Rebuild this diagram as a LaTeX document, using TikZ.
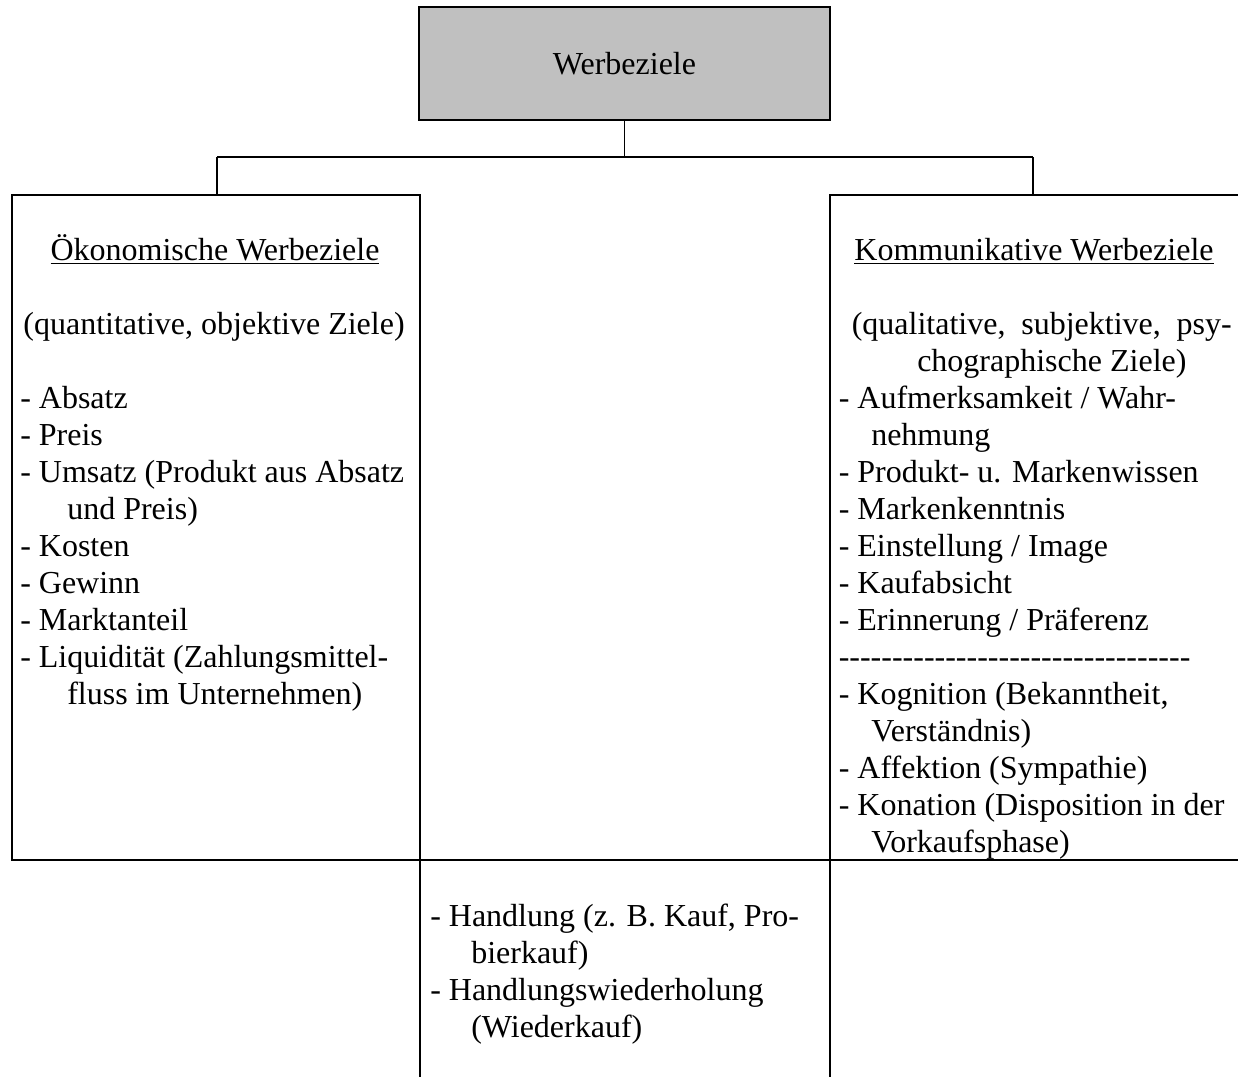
\documentclass[tikz,border=0pt]{standalone}
\usepackage{fontspec}
\setmainfont{Liberation Serif}
\usetikzlibrary{fit}
\definecolor{boxgray}{HTML}{C0C0C0}
\newcommand\mydashrow{-{}-{}-{}-{}-{}-{}-{}-{}-{}-{}-{}-{}-{}-{}-{}-{}-{}-{}-{}-{}-{}-{}-{}-{}-{}-{}-{}-{}-{}-{}-{}-{}-}
\begin{document}
\begin{tikzpicture}[x=0.75pt,y=-0.75pt,
  box/.style={draw, line width=1.4pt, inner sep=0pt},
  conn/.style={draw, line width=1.4pt},
  txt/.style={anchor=base west, inner sep=0pt, font=\fontsize{24}{27.6}\selectfont},
  ctxt/.style={anchor=base, inner sep=0pt, font=\fontsize{24}{27.6}\selectfont}]
\useasboundingbox (0,0) rectangle (1238,1076);

% boxes
\coordinate (tnw) at (419,7);   \coordinate (tse) at (830,120);
\coordinate (lnw) at (12,195);  \coordinate (lse) at (420,860);
\coordinate (rnw) at (830,195); \coordinate (rse) at (1250,860);
\coordinate (mnw) at (420,860); \coordinate (mse) at (830,1090);
\node[box, fill=boxgray, fit=(tnw)(tse)] (top) {};
\node[box, fit=(lnw)(lse)] (left) {};
\node[box, fit=(rnw)(rse)] (right) {};
\node[box, fit=(mnw)(mse)] (mid) {};

% connectors
\coordinate (bar) at (624.5,157);
\coordinate (barL) at (217,157);
\coordinate (barR) at (1033,157);
\draw[conn] (top.south) -- (bar);
\draw[conn] (barL) -- (barR);
\draw[conn] (barL) -- (barL |- left.north);
\draw[conn] (barR) -- (barR |- right.north);

% top label
\node[ctxt] (tl) at (624.5,74) {Werbeziele};

% left box
\node[ctxt] (lh) at (215,260.5) {\underline{Ökonomische Werbeziele}};
\node[ctxt] (ls) at (214,334.5) {(quantitative, objektive Ziele)};
\node[txt] (l1) at (20,408.5) {- Absatz};
\node[txt] (l2) at (20,445.5) {- Preis};
\node[txt] (l3) at (20,482.5) {- Umsatz (Produkt aus Absatz};
\node[txt] (l3b) at (67,519.5) {und Preis)};
\node[txt] (l4) at (20,556.5) {- Kosten};
\node[txt] (l5) at (20,593.5) {- Gewinn};
\node[txt] (l6) at (20,630.5) {- Marktanteil};
\node[txt] (l7) at (20,667.5) {- Liquidität (Zahlungsmittel-};
\node[txt] (l7b) at (67,704.5) {fluss im Unternehmen)};

% right box
\node[ctxt] (rh) at (1034,260.5) {\underline{Kommunikative Werbeziele}};
\node[txt] (rs1) at (851.5,334.5) {\makebox[285pt][s]{(qualitative, subjektive, psy-}};
\node[txt] (rs2) at (917,371.5) {chographische Ziele)};
\node[txt] (r1) at (838.5,408.5) {- Aufmerksamkeit / Wahr-};
\node[txt] (r1b) at (871,445.5) {nehmung};
\node[txt] (r2) at (838.5,482.5) {- Produkt- u. Markenwissen};
\node[txt] (r3) at (838.5,519.5) {- Markenkenntnis};
\node[txt] (r4) at (838.5,556.5) {- Einstellung / Image};
\node[txt] (r5) at (838.5,593.5) {- Kaufabsicht};
\node[txt] (r6) at (838.5,630.5) {- Erinnerung / Präferenz};
\node[txt] (rdash) at (838.5,667.5) {\mydashrow};
\node[txt] (r7) at (838.5,704.5) {- Kognition (Bekanntheit,};
\node[txt] (r7b) at (871,741.5) {Verständnis)};
\node[txt] (r8) at (838.5,778.5) {- Affektion (Sympathie)};
\node[txt] (r9) at (838.5,815.5) {- Konation (Disposition in der};
\node[txt] (r9b) at (871,852.5) {Vorkaufsphase)};

% middle box
\node[txt] (m1) at (430,926.5) {- Handlung (z. B. Kauf, Pro-};
\node[txt] (m1b) at (471,963.5) {bierkauf)};
\node[txt] (m2) at (430,1000.5) {- Handlungswiederholung};
\node[txt] (m2b) at (471,1037.5) {(Wiederkauf)};
\end{tikzpicture}
\end{document}
